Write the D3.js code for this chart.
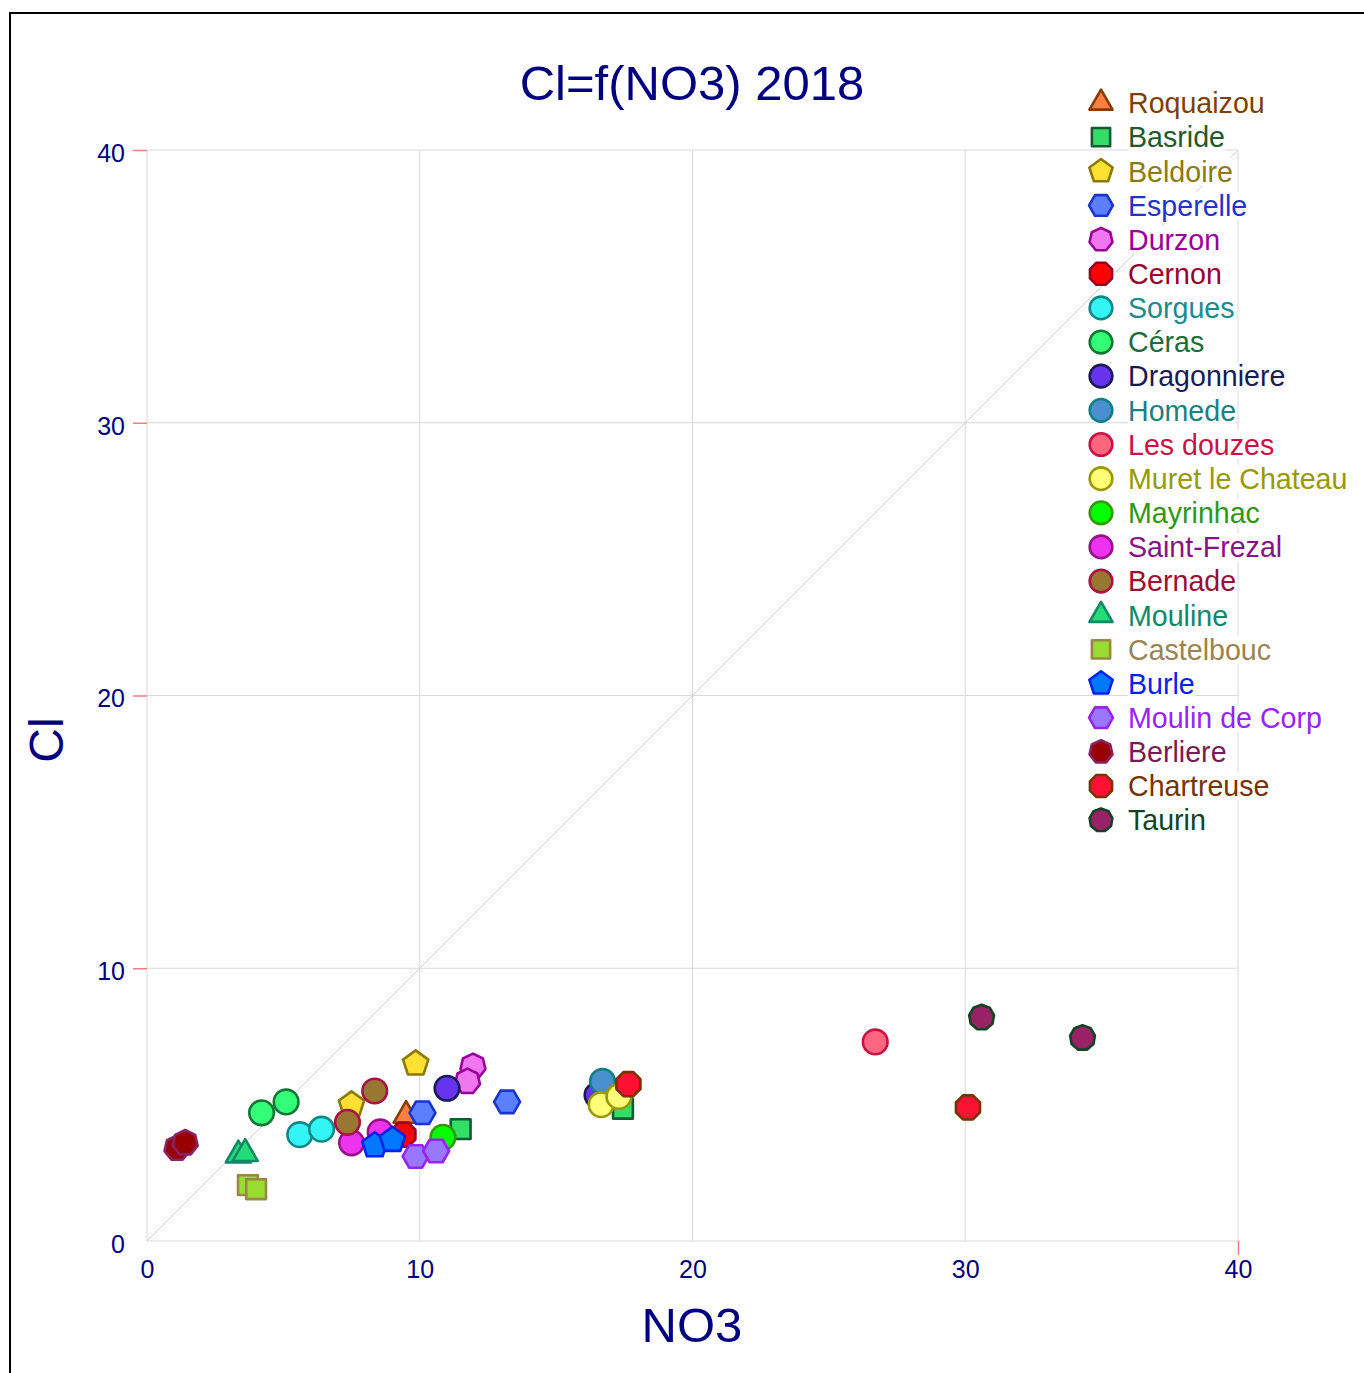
<!DOCTYPE html>
<html>
<head>
<meta charset="utf-8">
<script src="https://cdn.jsdelivr.net/npm/d3@7"></script>
<style>
  body { margin: 0; background: #fff; }
  svg { display: block; font-family: "Liberation Sans", Arial, sans-serif; }
</style>
</head>
<body>
<div id="chart"></div>
<script>
// data
var sites = ["Roquaizou", "Basride", "Beldoire", "Esperelle", "Durzon", "Cernon", "Sorgues", "Céras",
    "Dragonniere", "Homede", "Les douzes", "Muret le Chateau", "Mayrinhac", "Saint-Frezal", "Bernade",
    "Mouline", "Castelbouc", "Burle", "Moulin de Corp", "Berliere", "Chartreuse", "Taurin"]

var no3 = [[9.5], [11.5, 17.45], [9.85, 7.5], [10.1, 13.2], [11.95, 11.75], [9.4], [5.6, 6.4], [4.2, 5.1],
    [11.0, 16.5], [16.7], [26.7], [16.65, 17.3], [10.85], [7.5, 8.55], [8.35, 7.35],
    [3.35, 3.6], [3.7, 4.0], [8.35, 9.0], [9.85, 10.6], [1.1, 1.4], [17.65, 30.1], [30.6, 34.3]]

var cl = [[4.6], [4.1, 4.85], [6.5, 5.0], [4.7, 5.1], [6.4, 5.85], [3.9], [3.9, 4.1], [4.7, 5.1],
    [5.6, 5.35], [5.85], [7.3], [5.0, 5.3], [3.8], [3.6, 4.0], [5.5, 4.35],
    [3.15, 3.2], [2.05, 1.9], [3.5, 3.7], [3.1, 3.3], [3.4, 3.6], [5.75, 4.9], [8.2, 7.45]]

var xTicks = [0, 10, 20, 30, 40]
var yTicks = [0, 10, 20, 30, 40]

// marker styles: number of sides (0 = circle), fill, border, label colour
var sides = [3, 4, 5, 6, 7, 8, 0, 0, 0, 0, 0, 0, 0, 0, 0, 3, 4, 5, 6, 7, 8, 9]
var fills = ["#ff7f3f", "#33dd66", "#ffe033", "#5b7fff", "#f077f0", "#ff0000", "#33f5f5", "#33ff77",
    "#6633ee", "#4a90d0", "#ff6680", "#ffff77", "#00ff00", "#ee33ee", "#997733",
    "#22dd77", "#99dd33", "#0077ff", "#9977ff", "#990000", "#ff1133", "#992266"]
var strokes = ["#8b3a00", "#145a32", "#8b7a00", "#1a35cc", "#990099", "#990022", "#118888", "#117733",
    "#1a1a55", "#118080", "#cc1144", "#999900", "#339900", "#991188", "#aa1144",
    "#118866", "#998844", "#0022ee", "#9922ee", "#882266", "#773300", "#114422"]
var labelColors = ["#7f3f00", "#1e5a2e", "#8b7b10", "#2233cc", "#990099", "#99002a", "#1a8c8c", "#1a6e3a",
    "#1a1a55", "#1a8080", "#cc1144", "#999900", "#2e9910", "#881188", "#991133",
    "#118866", "#9b8450", "#0022ee", "#9922ff", "#7a1a55", "#773300", "#114422"]

var W = 1364, H = 1373
var navy = "#000080"

var svg = d3.select("#chart").append("svg")
    .attr("width", W)
    .attr("height", H)

var xScale = d3.scaleLinear().domain([0, 40]).range([147, 1238])
var yScale = d3.scaleLinear().domain([0, 40]).range([1241, 150])

// frame
svg.append("rect")
    .attr("x", 10).attr("y", 13)
    .attr("width", 1400).attr("height", 1400)
    .attr("fill", "none")
    .attr("stroke", "#000")
    .attr("stroke-width", 2)

// grid
var grid = svg.append("g").attr("stroke", "#d9d9d9").attr("stroke-width", 1)
grid.selectAll("line.v").data(xTicks).join("line")
    .attr("class", "v")
    .attr("x1", d => xScale(d)).attr("x2", d => xScale(d))
    .attr("y1", yScale(0)).attr("y2", yScale(40))
grid.selectAll("line.h").data(yTicks).join("line")
    .attr("class", "h")
    .attr("x1", xScale(0)).attr("x2", xScale(40))
    .attr("y1", d => yScale(d)).attr("y2", d => yScale(d))

// y = x reference line
svg.append("line")
    .attr("x1", xScale(0)).attr("y1", yScale(0))
    .attr("x2", xScale(40)).attr("y2", yScale(40))
    .attr("stroke", "#d0d0d0")
    .attr("stroke-width", 1)

// axes
var xAxis = d3.axisBottom(xScale).tickValues(xTicks).tickSize(14).tickPadding(2)
var yAxis = d3.axisLeft(yScale).tickValues(yTicks).tickSize(14).tickPadding(8)

var gx = svg.append("g").attr("transform", `translate(0,${yScale(0)})`).call(xAxis)
var gy = svg.append("g").attr("transform", `translate(${xScale(0)},0)`).call(yAxis)
;[gx, gy].forEach(g => {
    g.select(".domain").remove()
    g.selectAll(".tick line").attr("stroke", "#f08080").attr("stroke-width", 1.5)
    g.selectAll(".tick text")
        .attr("fill", navy)
        .style("font-size", "25px")
        .style("font-family", "'Liberation Sans', Arial, sans-serif")
})
gx.selectAll(".tick line").filter(d => d !== 40).remove()
gy.selectAll(".tick line").filter(d => d === 0).remove()
gx.selectAll(".tick text").attr("dy", "0.85em")
gy.selectAll(".tick text").attr("dy", "0.45em")

// titles
svg.append("text")
    .attr("x", 692).attr("y", 100)
    .attr("text-anchor", "middle")
    .attr("fill", navy)
    .style("font-size", "49px")
    .text("Cl=f(NO3) 2018")

svg.append("text")
    .attr("x", 692).attr("y", 1342)
    .attr("text-anchor", "middle")
    .attr("fill", navy)
    .style("font-size", "49px")
    .text("NO3")

svg.append("text")
    .attr("transform", "translate(63,740) rotate(-90)")
    .attr("text-anchor", "middle")
    .attr("fill", navy)
    .style("font-size", "48px")
    .text("Cl")

// marker path: regular polygon, or circle when n = 0
function markerPath(n, r) {
    if (n === 0) {
        return d3.symbol().type(d3.symbolCircle).size(Math.PI * r * r)()
    }
    var start
    if (n === 4) start = Math.PI / 4
    else if (n === 6) start = 0
    else if (n === 8) start = Math.PI / 8
    else start = -Math.PI / 2
    var pts = d3.range(n).map(i => {
        var a = start + i * 2 * Math.PI / n
        return [r * Math.cos(a), r * Math.sin(a)]
    })
    return "M" + pts.join("L") + "Z"
}
var radius = {0: 12.3, 3: 14.5, 4: 14, 5: 13.3, 6: 13, 7: 12.8, 8: 13, 9: 12.6}

// points
var points = []
sites.forEach((s, i) => {
    no3[i].forEach((v, j) => points.push({site: i, x: v, y: cl[i][j]}))
})

svg.append("g").selectAll("path").data(points).join("path")
    .attr("transform", d => `translate(${xScale(d.x)},${yScale(d.y)})`)
    .attr("d", d => markerPath(sides[d.site], radius[sides[d.site]]))
    .attr("fill", d => fills[d.site])
    .attr("stroke", d => strokes[d.site])
    .attr("stroke-width", 2.6)
    .attr("stroke-linejoin", "round")

// legend
var legend = svg.append("g").attr("transform", "translate(1101,103)")
var rows = legend.selectAll("g").data(sites).join("g")
    .attr("transform", (d, i) => `translate(0,${i * 34.15})`)

rows.append("path")
    .attr("d", (d, i) => markerPath(sides[i], radius[sides[i]] * 0.92))
    .attr("fill", (d, i) => fills[i])
    .attr("stroke", (d, i) => strokes[i])
    .attr("stroke-width", 2.6)
    .attr("stroke-linejoin", "round")

rows.each(function(d, i) {
    var row = d3.select(this)
    var t = row.append("text")
        .attr("x", 27).attr("y", 0)
        .attr("dy", "0.36em")
        .attr("fill", labelColors[i])
        .style("font-size", "28.6px")
        .text(d)
    var bb = t.node().getBBox()
    row.insert("rect", "text")
        .attr("x", bb.x).attr("y", bb.y + 2)
        .attr("width", bb.width).attr("height", bb.height - 4)
        .attr("fill", "#fff")
})
</script>
</body>
</html>
